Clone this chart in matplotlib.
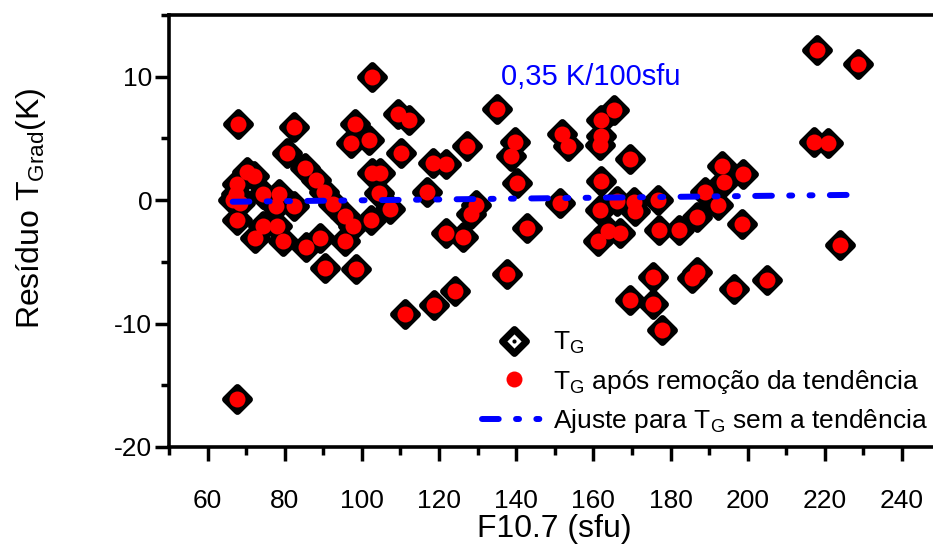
import numpy as np
import matplotlib
matplotlib.use("Agg")
import matplotlib.pyplot as plt
from matplotlib.lines import Line2D
from matplotlib.markers import MarkerStyle

plt.rcParams['font.family'] = ['Liberation Sans', 'DejaVu Sans']
plt.rcParams['mathtext.fontset'] = 'custom'
plt.rcParams['mathtext.rm'] = 'Liberation Sans'
plt.rcParams['mathtext.it'] = 'Liberation Sans'
plt.rcParams['axes.unicode_minus'] = False

# F10.7 (sfu) and residual T_G (K)
f107 = [66.5, 67.4, 67.5, 68.4, 67.5, 68.0, 67.5, 70.1, 72.0, 72.3,
        74.4, 74.4, 77.7, 77.9, 78.6, 79.5, 80.5, 82.4, 82.4, 85.3,
        85.5, 88.0, 89.1, 90.3, 90.4, 92.6, 95.6, 95.6, 97.3, 97.8,
        98.2, 98.6, 101.9, 102.4, 102.5, 102.5, 104.5, 104.7, 107.3, 109.4,
        110.1, 111.2, 112.3, 116.8, 118.4, 118.6, 121.8, 121.8, 124.1,
        126.3, 127.2, 128.3, 129.5, 134.9, 137.5, 138.6, 139.7, 140.1, 142.7,
        151.3, 151.8, 153.5, 161.3, 161.7, 161.7, 162.1, 162.1, 162.1, 163.9,
        165.3, 166.0, 166.9, 169.5, 169.5, 170.4, 170.8, 175.5, 175.5, 176.8,
        177.1, 177.7, 182.3, 186.9, 185.5, 186.8, 188.9, 192.4, 193.4, 193.9,
        196.4, 198.6, 198.8, 205.1, 217.2, 217.9, 220.9, 223.9, 228.7]
res_tg = [0.0, 0.46, 1.3, -0.2, -1.6, 6.2, -16.1, 2.3, 1.95, -3.1,
          0.46, -2.1, -0.5, -2.1, 0.46, -3.3, 3.85, 5.9, -0.5, 2.6,
          -3.8, 1.6, -3.1, 0.7, -5.5, -0.3, -1.3, -3.3, 4.6, -2.1,
          6.2, -5.55, 4.85, -1.6, 10.0, 2.2, 0.6, 2.2, -0.7, 7.0,
          3.8, -9.2, 6.5, 0.65, 3.0, -8.5, 2.9, -2.7, -7.4,
          -3.0, 4.4, -1.1, -0.4, 7.4, -6.0, 3.6, 4.7, 1.35, -2.25,
          -0.2, 5.35, 4.4, -3.3, 4.45, -0.8, 6.5, 5.2, 1.55, -2.5,
          7.3, -0.1, -2.7, 3.3, -8.1, -0.15, -0.9, -6.2, -8.4, 0.05,
          -2.45, -10.5, -2.45, -1.4, -6.3, -5.8, 0.7, -0.4, 2.75, 1.5,
          -7.2, -1.9, 2.15, -6.45, 4.75, 12.2, 4.65, -3.6, 11.0]
# detrended residuals (practically on top of the originals)
res_detr = list(res_tg)

# linear fit of the detrended residuals
fit_x = [66.5, 227.6]
fit_y = [-0.13, 0.43]

fig = plt.figure(figsize=(9.33, 5.46), dpi=100)
ax = fig.add_axes([169 / 933, 99 / 546, 771.6 / 933, 432 / 546])

diamond = MarkerStyle('D', joinstyle='round')
ax.plot(f107, res_tg, linestyle='none', marker=diamond, markersize=12.5,
        markerfacecolor='white', markeredgecolor='black', markeredgewidth=5, zorder=2)
ax.plot(f107, res_detr, linestyle='none', marker='o', markersize=11.5,
        markerfacecolor='red', markeredgecolor='none', zorder=3)
fit_style = (0, (2.8, 2.9, 0.5, 2.9, 0.5, 2.9))
ax.plot(fit_x, fit_y, color='blue', linewidth=4.3, linestyle=fit_style,
        dash_capstyle='round', zorder=4)

ax.text(136, 10.0, '0,35 K/100sfu', color='blue', fontsize=21, va='center')

ax.set_xlim(50, 250)
ax.set_ylim(-20, 15)
ax.set_xticks(np.arange(60, 241, 20))
ax.set_xticks(np.arange(50, 251, 10), minor=True)
ax.set_yticks([-20, -10, 0, 10])
ax.set_yticks([-15, -5, 5, 15], minor=True)

for s in ax.spines.values():
    s.set_linewidth(2.6)
ax.tick_params(which='major', direction='out', length=10, width=2.5, labelsize=19)
ax.tick_params(which='minor', direction='out', length=6, width=2.5)
ax.tick_params(axis='x', which='major', pad=20)
ax.tick_params(axis='y', which='major', pad=2)

ax.set_xlabel('F10.7 (sfu)', fontsize=23, labelpad=1)
ax.set_ylabel(r'Resíduo $\mathregular{T_{Grad}}$(K)', fontsize=23)
ax.yaxis.set_label_coords(-0.157, 0.553)

# legend handles
h_tg = (Line2D([], [], linestyle='none', marker=diamond, markersize=12.5,
               markerfacecolor='white', markeredgecolor='black', markeredgewidth=5),
        Line2D([], [], linestyle='none', marker='o', markersize=3,
               markerfacecolor='black', markeredgecolor='none'))
h_det = Line2D([], [], linestyle='none', marker='o', markersize=11.5,
               markerfacecolor='red', markeredgecolor='none')
h_fit = Line2D([], [], color='blue', linewidth=4.3, linestyle=fit_style,
               dash_capstyle='round')
fig.legend([h_tg, h_det, h_fit],
           [r'$\mathregular{T_G}$',
            r'$\mathregular{T_G}$ após remoção da tendência',
            r'Ajuste para $\mathregular{T_G}$ sem a tendência'],
           loc='upper left', bbox_to_anchor=(482 / 933, 1 - 330 / 546),
           frameon=False, fontsize=19, borderpad=0, borderaxespad=0,
           handlelength=2.4, handletextpad=0.3, labelspacing=0.43)

fig.savefig('out.png', dpi=100)
